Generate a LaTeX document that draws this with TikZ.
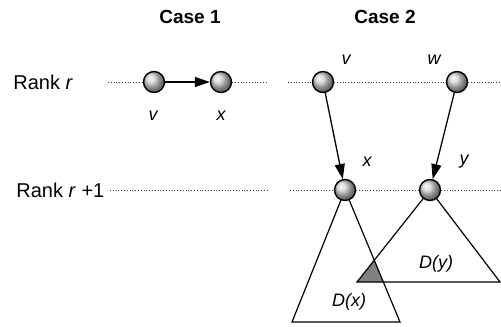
\documentclass[tikz,border=0pt]{standalone}
\usepackage{fontspec}
\setmainfont{Liberation Sans}
\usetikzlibrary{positioning, arrows.meta}

\begin{document}
\begin{tikzpicture}[x=0.5pt, y=-0.5pt,
    vtx/.style={circle, draw, line width=0.7pt, ball color=gray!35,
                minimum size=10.5pt, inner sep=0pt},
    rankline/.style={densely dotted, line width=0.4pt, black!75},
    edge/.style={line width=0.65pt, -{Triangle[length=7.5pt, width=5pt]}},
    tree/.style={line width=0.6pt},
    lbl/.style={font=\fontsize{9}{11}\selectfont\itshape},
    rank/.style={font=\fontsize{10}{12}\selectfont, anchor=west, inner sep=0pt},
    head/.style={font=\fontsize{9.5}{11}\selectfont\bfseries}]
  \useasboundingbox (0,0) rectangle (501,326);
  % headers
  \node[head] (case1) at (190,17) {Case 1};
  \node[head] (case2) at (385,17) {Case 2};
  \node[rank] (rankr) at (13,82) {Rank \textit{r}};
  \node[rank] (rankr1) at (16,190) {Rank \textit{r} +1};
  % subtree corners
  \coordinate (cx) at (345,190);
  \coordinate (cy) at (430,190);
  \coordinate (dxl) at (292,322);
  \coordinate (dxr) at (400,322);
  \coordinate (dyl) at (357,282);
  \coordinate (dyr) at (500,282);
  % overlap of the two subtrees
  \begin{scope}
    \clip (cx) -- (dxl) -- (dxr) -- cycle;
    \fill[gray] (cy) -- (dyl) -- (dyr) -- cycle;
  \end{scope}
  \draw[tree] (cx) -- (dxl) -- (dxr) -- cycle;
  \draw[tree] (cy) -- (dyl) -- (dyr) -- cycle;
  % vertices
  \node[vtx] (v1) at (154,82) {};
  \node[vtx] (x1) at (221,82) {};
  \node[vtx] (v2) at (323,82) {};
  \node[vtx] (w2) at (457,82) {};
  \node[vtx] (x2) at (cx) {};
  \node[vtx] (y2) at (cy) {};
  % rank lines
  \coordinate (ra) at (108,82);
  \coordinate (rb) at (268,82);
  \coordinate (rc) at (288,82);
  \coordinate (rd) at (501,82);
  \coordinate (sa) at (110,190);
  \coordinate (sb) at (269,190);
  \coordinate (sc) at (290,190);
  \coordinate (sd) at (501,190);
  \draw[rankline] (ra) -- (v1);
  \draw[rankline] (x1) -- (rb);
  \draw[rankline] (rc) -- (v2) -- (w2) -- (rd);
  \draw[rankline] (sa) -- (sb);
  \draw[rankline] (sc) -- (x2) -- (y2) -- (sd);
  % edges
  \draw[edge] (v1) -- (x1);
  \draw[edge] (v2) -- (x2);
  \draw[edge] (w2) -- (y2);
  % labels
  \node[lbl] (lv1) at (153,116) {v};
  \node[lbl] (lx1) at (221,116) {x};
  \node[lbl] (lv2) at (346,60) {v};
  \node[lbl] (lw2) at (434,60) {w};
  \node[lbl] (lx2) at (367,162) {x};
  \node[lbl] (ly2) at (464,162) {y};
  \node[lbl] (ldx) at (349,302) {D(x)};
  \node[lbl] (ldy) at (436,264) {D(y)};
\end{tikzpicture}
\end{document}
